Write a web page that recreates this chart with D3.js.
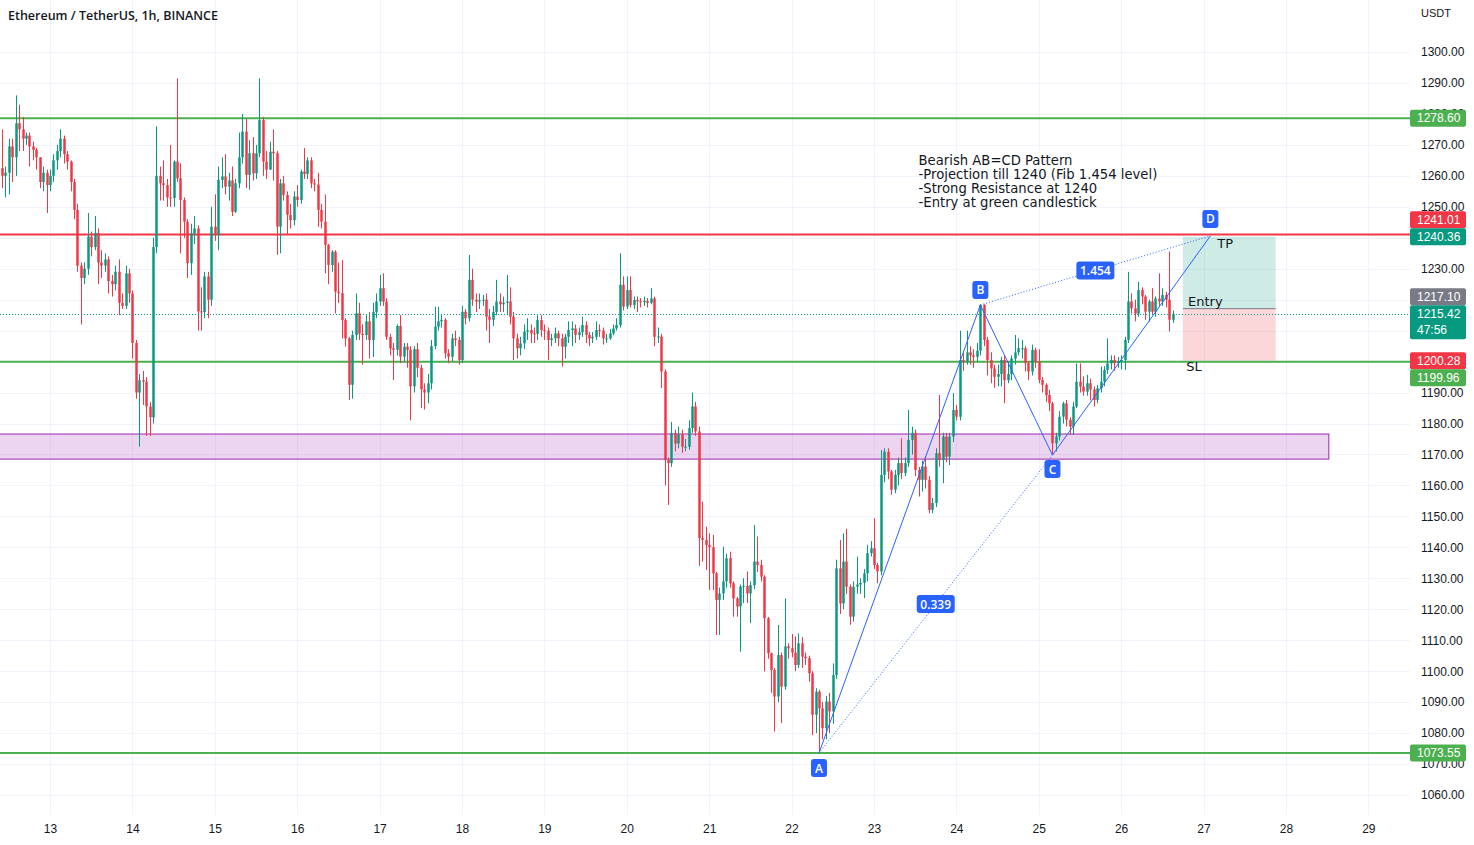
<!DOCTYPE html>
<html><head><meta charset="utf-8">
<script src="https://cdn.jsdelivr.net/npm/d3@7/dist/d3.min.js"></script>
<style>
html,body{margin:0;padding:0;background:#fff;}
svg{display:block;font-family:"Liberation Sans",Arial,sans-serif;}
</style></head><body>
<svg id="chart" width="1474" height="845"></svg>
<script>
// ---------------- DATA ----------------
const firstCandleUTC = [2022, 10, 12, 10]; // Nov 12 2022 10:00, hourly candles
const firstOpen = 1262.5;
const closes = [
1260,1261,1269.5,1266,1277,1275,1272,1273,1269.5,1268.4,
1266,1258,1261,1257,1260,1265,1268,1272,1267,1264.6,
1258,1249,1231,1227,1230,1240.4,1237,1241.5,1232,1231,
1233,1226,1225,1229,1219,1218,1228.5,1222,1206,1190,
1194,1193.5,1185.5,1182,1237,1260,1257.6,1257,1253,1252.8,
1264.6,1259.2,1252.2,1245.2,1231.8,1241.4,1243,1216.2,1216,1227.5,
1220,1243.6,1241,1258.7,1259.8,1256.5,1258.5,1248.4,1257.6,1266,
1274.3,1260.3,1267.3,1260.8,1267.3,1278,1264.6,1262,1267.8,1267.3,
1243.6,1257.6,1253.8,1247.4,1245.7,1253.3,1252.2,1261.4,1260.6,1265,
1257.6,1257.2,1249,1245.2,1237.7,1231.2,1235.5,1222.6,1222.1,1213.4,
1207.5,1192.5,1208.6,1215.6,1209,1208.6,1213,1207,1216,1219.4,
1223.7,1219.4,1208,1204.3,1203.8,1211.5,1201.6,1204.8,1203.8,1192,
1204,1198,1191,1190,1193,1205,1211.3,1213,1213.5,1202.7,
1201.6,1207.5,1207,1200.5,1216.1,1214,1226.4,1220,1219.4,1219.8,
1220,1214.5,1213.5,1216,1219.4,1218.5,1219,1219.4,1214.5,1207.5,
1204.3,1205.9,1209.7,1210.2,1209.1,1209,1213.4,1210.2,1210,1207,
1207.5,1209.1,1207.5,1204.8,1208,1210.2,1210.7,1208.6,1209.5,1211.8,
1208.6,1207.5,1208,1210.2,1210,1207.5,1207.5,1209.1,1210.7,1211.8,
1224.8,1217.8,1223.1,1218.3,1219.9,1219.5,1219.2,1219.6,1219,1220.4,
1208,1208.1,1196.8,1168.2,1167.2,1176.9,1173.5,1176.5,1172.5,1172.5,
1178.5,1185.5,1177.4,1143,1142.4,1140.8,1140,1131.6,1123,1125.1,
1129,1136.5,1128.4,1123.5,1120.9,1127.3,1127.5,1125.1,1127.8,1135.4,
1134.3,1130.5,1117.1,1105.8,1100.4,1091.8,1105.2,1095,1108,1107.4,
1106,1102,1109,1104.7,1104.2,1099.3,1085.9,1093.4,1088,1081.6,
1090.2,1087,1098.8,1133.2,1121.9,1135.4,1127.3,1117.6,1127.3,1128,
1128.5,1131.6,1138.1,1139.7,1134.3,1132.2,1163.4,1170.9,1164.5,1158.6,
1163.4,1167.2,1164,1167.2,1174.7,1177,1165,1161.8,1166.1,1161.8,
1152.1,1154.3,1170.4,1168.2,1175.8,1169.3,1175.8,1184.4,1182.2,1200.5,
1200,1203,1202,1201.5,1203.5,1218.3,1207,1200.5,1197.8,1195.1,
1196,1200.5,1194,1196,1201,1203,1204.3,1204.3,1199.5,1196.8,
1203.8,1200,1194.1,1192.5,1189.2,1186.5,1173.6,1175.8,1182.2,1186.5,
1181.2,1179,1185.5,1193.5,1191.9,1190.3,1193,1191,1187.6,1191.4,
1193.5,1197.3,1199.4,1200.5,1199.5,1200,1200.5,1207,1219.4,1217.2,
1215.5,1223.1,1221,1216.1,1219.4,1216.1,1220.4,1219.4,1221.5,1220,
1213.5,1215.42
];
const highs = [
1275,1263,1272,1272,1286,1283,1279,1274,1274,1271,
1269,1266,1263,1262,1262,1267,1270,1275,1273,1268,
1265,1259,1251,1232,1232,1248,1242,1247,1243,1236,
1235,1234,1228,1231,1233,1222,1231,1230,1223,1207,
1196,1197,1195,1187,1240,1276,1263,1265,1259,1270,
1265,1291.5,1264,1253,1246,1244.5,1247,1244,1224,1229,
1229,1250,1254,1263,1266,1267,1261,1263,1259,1274,
1280,1278.5,1271.5,1272.5,1270,1291.5,1279,1268,1271,1275,
1268,1259,1260,1255,1251,1255,1257,1262,1269,1266,
1266,1259,1261,1251,1254,1238,1236,1236,1232,1232.8,
1214,1208,1210,1222,1219,1212,1215,1216,1219,1222,
1228,1228.5,1220.5,1209,1206,1212,1215,1206,1206,1205,
1205,1206,1199,1193,1196,1207,1217.7,1217.7,1215,1214,
1204,1209,1210,1208,1218,1217,1234.4,1230,1222,1222,
1221.5,1222,1217,1218,1226.4,1222,1221,1228,1224,1216,
1209,1208,1212,1214,1212,1211,1215,1215,1212,1211,
1209,1211,1210,1209,1209,1213,1213,1212,1211,1214.5,
1213,1209.5,1209.5,1213,1212,1211,1209,1210.5,1212,1214,
1235,1227.5,1227.5,1227.5,1221,1221,1220.5,1221,1220.5,1223.7,
1221,1211,1209,1197.5,1169,1180.5,1178,1179,1178,1175,
1181,1190,1187,1179,1154.7,1146.7,1144.5,1144,1132,1127,
1140.2,1138,1138.6,1129,1124,1128,1130,1132.2,1129,1147.2,
1143.5,1136,1131,1117.5,1106,1101,1114.9,1106,1123.5,1109,
1112,1111.2,1112.2,1111,1106,1105,1100,1094.5,1094,1090,
1092,1093,1102.5,1136,1142.4,1144.5,1146,1128,1129,1137,
1130,1133,1140.8,1142,1149.4,1135,1171.4,1172,1172,1165,
1165,1169,1175.2,1169,1184.4,1179,1178,1166,1168,1169.3,
1163,1156,1172,1189.2,1177,1177,1177,1189.8,1186,1210,
1203,1210,1205,1204,1206,1218.5,1218.5,1208,1203,1199,
1199,1201.5,1202,1200,1202,1208.6,1207.5,1207,1205,1200,
1205.5,1204.5,1204,1195,1193,1190.8,1187,1177,1184,1187,
1187.6,1182,1187,1199.4,1199.4,1195.2,1195.7,1194.5,1192,1192.5,
1198.4,1198.5,1207.5,1202,1202,1201.5,1202,1208,1229,1222,
1220,1225.8,1224,1221.5,1220,1223.7,1221,1228.5,1223.7,1222.5,
1235.5,1216.5
];
const lows = [
1256,1253,1254,1258,1260,1268,1268,1270,1263,1265,
1262,1256,1255,1248,1255,1258,1262,1266,1264,1262,
1255,1246,1229,1212,1225,1228,1234,1236,1225,1227,
1229,1222,1221,1223,1215,1217,1217,1219,1201,1188,
1172.5,1186,1176,1176,1180,1235,1252,1252,1250,1250,
1250,1258,1235,1240,1227,1228,1238,1210,1210,1214,
1214,1218,1239,1236,1256,1254,1252,1247,1248,1256,
1264,1256,1255.5,1258.5,1259,1266,1260,1259,1262,1258.5,
1234.5,1235,1252,1241,1243,1244,1250,1251,1259,1259,
1256,1255,1243.5,1243,1228.5,1225,1229,1215.6,1219,1207.5,
1204.8,1187.6,1188,1207,1207,1199,1207,1201,1201.5,1214,
1218,1218,1207,1202,1194,1202,1199.5,1200,1198,1181,
1190,1195,1185,1184.5,1186.5,1191,1204,1210,1211,1201,
1199.5,1200,1205,1199,1199.5,1212,1213,1218,1216,1217,
1218,1210,1206,1211.5,1215,1216,1216,1215,1212,1200.5,
1201,1202,1204,1207,1206,1206,1207,1208,1207,1200.5,
1205,1206,1205,1198.4,1201,1206,1205,1206,1207,1208,
1206,1205,1206,1207,1208,1205.5,1206,1207,1208.5,1210,
1211,1216.5,1217,1217.5,1217,1216,1217.5,1218,1217.5,1218.5,
1205,1206,1191.5,1160,1153.7,1166,1171,1172,1170.5,1171,
1171.5,1177,1176,1134,1135.4,1132.7,1126.2,1126.2,1111.7,1111.7,
1123,1127,1127,1117.6,1117.6,1106.3,1122,1122,1115.5,1126.5,
1132,1129,1099.9,1104,1093,1080.5,1090,1083.2,1094,1104,
1104.5,1100,1101,1101,1102,1096.6,1079.4,1080,1073.6,1078,
1078,1080,1083,1097.5,1118.5,1120,1125,1115,1116,1125,
1125,1123.6,1129,1137,1133,1128.4,1131,1161,1162,1157,
1157.5,1160,1162,1163,1166,1170,1163,1156.4,1158,1159,
1151,1151,1153,1166,1160.7,1167.5,1166.6,1174,1181,1181,
1197,1199,1199,1198,1200,1202,1205,1195.5,1193,1191.5,
1192,1192,1186.5,1193,1194,1199,1202,1201,1196.8,1194,
1195.5,1198,1193,1190,1187,1184,1170,1171,1174.5,1180,
1179,1176.3,1176.3,1185,1190,1189,1189,1187.5,1185.5,1186.5,
1190,1192,1196,1197.5,1197,1198,1197.5,1197.3,1206,1215.5,
1213,1214.5,1218.5,1213.5,1212.9,1215,1214.5,1218,1218,1217.5,
1209.7,1212.5
];

const dayLabels = ["13","14","15","16","17","18","19","20","21","22","23","24","25","26","27","28","29"];
const priceTicks = [1060,1070,1080,1090,1100,1110,1120,1130,1140,1150,1160,1170,1180,1190,1200,1210,1220,1230,1240,1250,1260,1270,1280,1290,1300];

// horizontal levels drawn by the author
const levelPrices = [1278.60, 1241.01, 1199.96, 1073.55];
const levelColors = ["#4caf50", "#f23645", "#4caf50", "#4caf50"];

// support zone (rectangle)
const zoneTop = 1176.6, zoneBottom = 1168.5;
const zoneEnd = "2022-11-28T12:30:00Z";

// AB=CD pattern points
const patternNames = ["A", "B", "C", "D"];
const patternTimes = ["2022-11-22T08:00:00Z", "2022-11-24T07:00:00Z", "2022-11-25T04:00:00Z", "2022-11-27T02:00:00Z"];
const patternPrices = [1073.55, 1218.3, 1169.8, 1240.6];
const patternRatios = ["0.339", "1.454"]; // on A–C and B–D

// long position tool
const posStart = "2022-11-26T18:00:00Z", posEnd = "2022-11-27T21:00:00Z";
const posEntry = 1217.10, posTarget = 1240.36, posStop = 1200.28;

const currentPrice = 1215.42, countdown = "47:56";

// price-scale labels
const axisLabelValues = [1278.60, 1241.01, 1240.36, 1217.10, 1215.42, 1200.28, 1199.96, 1073.55];
const axisLabelColors = ["#4caf50", "#f23645", "#089981", "#787b86", "#089981", "#f23645", "#4caf50", "#4caf50"];
const axisLabelFixed = [false, false, true, false, true, true, false, false];

// annotation texts
const noteLines = ["Bearish AB=CD Pattern", "-Projection till 1240 (Fib 1.454 level)", "-Strong Resistance at 1240", "-Entry at green candlestick"];
const noteTime = "2022-11-23T13:00:00Z", notePrice = 1263.6;
const tagTexts = ["TP", "Entry", "SL"];
const tagTimes = ["2022-11-27T04:00:00Z", "2022-11-26T19:30:00Z", "2022-11-26T19:00:00Z"];
const tagPrices = [1238.3, 1219.3, 1198.3];

const title = "Ethereum / TetherUS, 1h, BINANCE";
const currency = "USDT";

// ---------------- CHART ----------------
const W = 1474, H = 845, plotR = 1410, plotB = 815;
const UP = "#089981", DOWN = "#f23645", TEXT = "#131722", GRID = "#f0f3fa";
const svg = d3.select("#chart");

const HOUR = 3600e3;
const t0 = Date.UTC(...firstCandleUTC);
const dayDates = dayLabels.map(d => new Date(Date.UTC(2022, 10, +d)));
const x = d3.scaleUtc().domain([dayDates[0], dayDates[dayDates.length - 1]]).range([50, 1368.3]);
const y = d3.scaleLinear().domain([1060, 1300]).range([795, 52]);

const candles = closes.map((c, i) => ({
  t: new Date(t0 + i * HOUR), o: i === 0 ? firstOpen : closes[i - 1], c, h: highs[i], l: lows[i]
}));

svg.append("defs").append("clipPath").attr("id", "plotclip")
  .append("rect").attr("x", 0).attr("y", 0).attr("width", plotR).attr("height", plotB);

// grid
const grid = svg.append("g");
grid.selectAll("line.h").data(priceTicks).join("line")
  .attr("x1", 0).attr("x2", plotR).attr("y1", d => Math.round(y(d)) + 0.5).attr("y2", d => Math.round(y(d)) + 0.5)
  .attr("stroke", GRID).attr("stroke-width", 1);
grid.selectAll("line.v").data(dayDates).join("line")
  .attr("y1", 0).attr("y2", plotB).attr("x1", d => Math.round(x(d)) + 0.5).attr("x2", d => Math.round(x(d)) + 0.5)
  .attr("stroke", GRID).attr("stroke-width", 1);

const plot = svg.append("g").attr("clip-path", "url(#plotclip)");

// zone
plot.append("rect")
  .attr("x", -5).attr("y", y(zoneTop))
  .attr("width", x(new Date(zoneEnd)) + 5).attr("height", y(zoneBottom) - y(zoneTop))
  .attr("fill", "rgba(186,104,200,0.28)").attr("stroke", "#9c27b0").attr("stroke-width", 1);

// position tool
const px0 = x(new Date(posStart)), px1 = x(new Date(posEnd));
plot.append("rect").attr("x", px0).attr("y", y(posTarget)).attr("width", px1 - px0)
  .attr("height", y(posEntry) - y(posTarget)).attr("fill", "rgba(8,153,129,0.2)");
plot.append("rect").attr("x", px0).attr("y", y(posEntry)).attr("width", px1 - px0)
  .attr("height", y(posStop) - y(posEntry)).attr("fill", "rgba(242,54,69,0.2)");
plot.append("line").attr("x1", px0).attr("x2", px1).attr("y1", y(posEntry)).attr("y2", y(posEntry))
  .attr("stroke", "#787b86").attr("stroke-width", 1);

// horizontal levels
plot.selectAll("line.level").data(levelPrices).join("line")
  .attr("x1", 0).attr("x2", plotR).attr("y1", d => y(d)).attr("y2", d => y(d))
  .attr("stroke", (d, i) => levelColors[i]).attr("stroke-width", 2);

// candles
const step = x(new Date(t0 + HOUR)) - x(new Date(t0));
const bw = step * 0.72;
const cg = plot.append("g");
cg.selectAll("line.wick").data(candles).join("line")
  .attr("x1", d => Math.round(x(d.t)) + 0.5).attr("x2", d => Math.round(x(d.t)) + 0.5)
  .attr("y1", d => y(d.h)).attr("y2", d => y(d.l))
  .attr("stroke", d => d.c >= d.o ? UP : DOWN).attr("stroke-width", 1);
cg.selectAll("rect.body").data(candles).join("rect")
  .attr("x", d => Math.round(x(d.t)) + 0.5 - bw / 2).attr("width", bw)
  .attr("y", d => y(Math.max(d.o, d.c)))
  .attr("height", d => Math.max(1, Math.abs(y(d.o) - y(d.c))))
  .attr("fill", d => d.c >= d.o ? UP : DOWN);

// current price dotted line
plot.append("line").attr("x1", 0).attr("x2", plotR).attr("y1", Math.round(y(currentPrice)) + 0.5).attr("y2", Math.round(y(currentPrice)) + 0.5)
  .attr("stroke", UP).attr("stroke-width", 1).attr("stroke-dasharray", "1,2");

// pattern
const pts = patternNames.map((n, i) => ({ n, t: new Date(patternTimes[i]), p: patternPrices[i] }));
const PBLUE = "#2962ff";
plot.append("path").attr("d", d3.line().x(d => x(d.t)).y(d => y(d.p))(pts))
  .attr("fill", "none").attr("stroke", PBLUE).attr("stroke-width", 1);
const dotted = [[pts[0], pts[2]], [pts[1], pts[3]]];
plot.selectAll("line.dot").data(dotted).join("line")
  .attr("x1", d => x(d[0].t)).attr("y1", d => y(d[0].p)).attr("x2", d => x(d[1].t)).attr("y2", d => y(d[1].p))
  .attr("stroke", PBLUE).attr("stroke-width", 1).attr("stroke-dasharray", "1,2");

function tag(g, cx, cy, txt, w) {
  g.append("rect").attr("x", cx - w / 2).attr("y", cy - 9).attr("width", w).attr("height", 18).attr("rx", 3).attr("fill", PBLUE);
  g.append("text").attr("x", cx).attr("y", cy).attr("text-anchor", "middle").attr("dominant-baseline", "central")
    .attr("fill", "#fff").attr("font-size", 12).attr("font-family", "'Open Sans',sans-serif").attr("font-weight", 600).text(txt);
}
const tagOff = [15, -15, 14, -17];
pts.forEach((d, i) => tag(plot, x(d.t), y(d.p) + tagOff[i], d.n, 16));
dotted.forEach((d, i) => {
  const mx = (x(d[0].t) + x(d[1].t)) / 2, my = (y(d[0].p) + y(d[1].p)) / 2;
  tag(plot, mx, my, patternRatios[i], 38);
});

// annotation text
const note = plot.append("text").attr("x", x(new Date(noteTime))).attr("y", y(notePrice))
  .attr("fill", TEXT).attr("font-size", 13.2).attr("font-family", "'DejaVu Sans',sans-serif");
noteLines.forEach((l, i) => note.append("tspan").attr("x", x(new Date(noteTime))).attr("dy", i === 0 ? 0 : 14).text(l));

plot.selectAll("text.tagtxt").data(tagTexts).join("text")
  .attr("x", (d, i) => x(new Date(tagTimes[i]))).attr("y", (d, i) => y(tagPrices[i]))
  .attr("dominant-baseline", "central").attr("fill", TEXT).attr("font-size", 13)
  .attr("font-family", "'DejaVu Sans',sans-serif").text(d => d);

// price labels with collision handling (computed first so fully covered ticks can be skipped)
const labs = axisLabelValues.map((v, i) => {
  const cy = y(v), h = v === currentPrice ? 34 : 17;
  return { v, color: axisLabelColors[i], fixed: axisLabelFixed[i], top: cy - 8.5, h, bot: cy - 8.5 + h };
});
const fixedLabs = labs.filter(l => l.fixed);
labs.filter(l => !l.fixed).forEach(l => {
  fixedLabs.forEach(f => {
    if (l.top < f.bot && l.bot > f.top) {
      if (l.v > f.v) { l.bot = f.top; l.top = l.bot - l.h; }
      else { l.top = f.bot; l.bot = l.top + l.h; }
    }
  });
});
const covered = v => labs.some(l => y(v) - 5 >= l.top && y(v) + 5 <= l.bot);
const visibleTicks = priceTicks.filter(v => !covered(v));

// axes
const yAxis = d3.axisRight(y).tickValues(visibleTicks).tickFormat(d3.format(".2f")).tickSize(0).tickPadding(11);
const ya = svg.append("g").attr("transform", `translate(${plotR},0)`).call(yAxis);
ya.select(".domain").remove();
ya.selectAll("text").attr("font-size", 12).attr("fill", TEXT).attr("font-family", "'Liberation Sans',Arial,sans-serif");

const xAxis = d3.axisBottom(x).tickValues(dayDates).tickFormat((d, i) => dayLabels[i]).tickSize(0).tickPadding(9);
const xa = svg.append("g").attr("transform", `translate(0,${plotB})`).call(xAxis);
xa.select(".domain").remove();
xa.selectAll("text").attr("font-size", 12).attr("fill", TEXT).attr("font-family", "'Liberation Sans',Arial,sans-serif");

svg.append("text").attr("x", 1421).attr("y", 17).attr("font-size", 11).attr("fill", TEXT).text(currency);

const lg = svg.append("g");
labs.forEach(l => {
  lg.append("rect").attr("x", plotR).attr("y", l.top).attr("width", 56).attr("height", l.h).attr("rx", 2).attr("fill", l.color);
  lg.append("text").attr("x", 1417).attr("y", l.top + 8.5).attr("dominant-baseline", "central")
    .attr("fill", "#fff").attr("font-size", 12).text(d3.format(".2f")(l.v));
  if (l.v === currentPrice) {
    lg.append("text").attr("x", 1417).attr("y", l.top + 25).attr("dominant-baseline", "central")
      .attr("fill", "#fff").attr("font-size", 12).text(countdown);
  }
});

// title
svg.append("text").attr("x", 8).attr("y", 20).attr("font-size", 12.5).attr("font-weight", 600)
  .attr("font-family", "'Open Sans',sans-serif").attr("fill", TEXT).text(title);
</script>
</body></html>
